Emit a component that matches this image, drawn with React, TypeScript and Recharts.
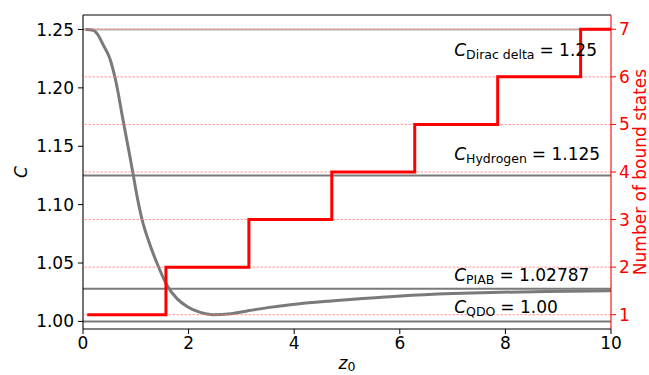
import { ComposedChart, Line, XAxis, YAxis, ReferenceLine, ReferenceDot } from 'recharts';

// C(z0) for the finite well, read along z0
const zCurve = [0.05, 0.19, 0.28, 0.38, 0.51, 0.63, 0.76, 0.86, 0.95, 1.0, 1.12, 1.25, 1.4, 1.59, 1.78, 1.97, 2.22, 2.45, 2.8, 3.11, 3.5, 3.93, 4.69, 5.3, 6.02, 7.0, 7.73, 8.8, 10];
const cCurve = [1.25, 1.2494, 1.2457, 1.237, 1.225, 1.204, 1.172, 1.148, 1.126, 1.113, 1.087, 1.068, 1.05, 1.031, 1.0195, 1.0128, 1.0077, 1.0058, 1.0066, 1.009, 1.0118, 1.0143, 1.0175, 1.0196, 1.0218, 1.0238, 1.0248, 1.0257, 1.0263];

// a new bound state appears every pi/2 in z0
const zSteps = [0.08, 1.571, 3.142, 4.712, 6.283, 7.854, 9.425, 10];
const boundStates = [1, 2, 3, 4, 5, 6, 7, 7];

const limitNames = ['Dirac delta', 'Hydrogen', 'PIAB', 'QDO'];
const limitValues = [1.25, 1.125, 1.02787, 1.0];
const limitTexts = ['1.25', '1.125', '1.02787', '1.00'];

const cTicks = [1.0, 1.05, 1.1, 1.15, 1.2, 1.25];
const nTicks = [1, 2, 3, 4, 5, 6, 7];
const zTicks = [0, 2, 4, 6, 8, 10];

const FONT = 'DejaVu Sans';
const RED = '#ff0000';
const GRAY = '#7a7a7a';
const C_DOMAIN: [number, number] = [0.9935, 1.2624];

const curveData = zCurve.map((z, i) => ({ z, c: cCurve[i] }));
const stepData = zSteps.map((z, i) => ({ z, n: boundStates[i] }));

// where each "C_name = value" annotation sits (z0, C)
const labelSpots = [
  { z: 7.03, c: 1.2269 },
  { z: 7.03, c: 1.1386 },
  { z: 7.03, c: 1.0343 },
  { z: 7.03, c: 1.0072 },
];

function LimitLabel({ cx, cy, name, text }: { cx: number; cy: number; name: string; text: string }) {
  return (
    <text x={cx} y={cy} fontFamily={FONT} fontSize={17} fill="#000">
      <tspan fontStyle="italic">C</tspan>
      <tspan fontSize={12.5} dy={3}>{name}</tspan>
      <tspan dy={-3} dx={5}>= {text}</tspan>
    </text>
  );
}

function XTitle(props: any) {
  const vb = props.viewBox;
  return (
    <text x={vb.x + vb.width / 2} y={369} textAnchor="middle" fontFamily={FONT} fontSize={17}>
      <tspan fontStyle="italic">z</tspan>
      <tspan fontSize={12.5} dy={2}>0</tspan>
    </text>
  );
}

function LeftTitle() {
  return (
    <text x={27} y={172} transform="rotate(-90 27 172)" textAnchor="middle" fontFamily={FONT} fontSize={17} fontStyle="italic">
      C
    </text>
  );
}

function RightTitle() {
  return (
    <text x={646} y={172} transform="rotate(-90 646 172)" textAnchor="middle" fontFamily={FONT} fontSize={17} fill={RED}>
      Number of bound states
    </text>
  );
}

export default function App() {
  return (
    <div style={{ position: 'absolute', left: 0, top: 0, background: '#fff' }}>
      <ComposedChart width={649} height={375} margin={{ top: 15, right: 0, bottom: 0, left: 0 }}>
        <XAxis
          type="number"
          dataKey="z"
          domain={[0, 10]}
          ticks={zTicks}
          height={46}
          tickSize={5}
          tickMargin={3}
          axisLine={{ stroke: '#000', strokeWidth: 1.1 }}
          tickLine={{ stroke: '#000' }}
          tick={{ fill: '#000', fontSize: 17, fontFamily: FONT }}
          label={<XTitle />}
        />
        <YAxis
          yAxisId="C"
          type="number"
          domain={C_DOMAIN}
          ticks={cTicks}
          width={83}
          tickSize={5}
          tickMargin={4}
          tickFormatter={(v: number) => v.toFixed(2)}
          axisLine={{ stroke: '#000', strokeWidth: 1.1 }}
          tickLine={{ stroke: '#000' }}
          tick={{ fill: '#000', fontSize: 17, fontFamily: FONT }}
          label={<LeftTitle />}
        />
        <YAxis
          yAxisId="n"
          orientation="right"
          type="number"
          domain={[0.7, 7.3]}
          ticks={nTicks}
          width={38}
          tickSize={5}
          tickMargin={3}
          axisLine={{ stroke: RED, strokeWidth: 1.1 }}
          tickLine={{ stroke: RED }}
          tick={{ fill: RED, fontSize: 17, fontFamily: FONT }}
          label={<RightTitle />}
        />

        {/* top spine */}
        <ReferenceLine yAxisId="C" y={C_DOMAIN[1]} stroke="#000" strokeWidth={1.1} />

        {limitValues.map((v, i) => (
          <ReferenceLine
            key={'lim' + i}
            yAxisId="C"
            y={v}
            stroke={i === 0 ? '#b8b8b8' : GRAY}
            strokeWidth={2}
          />
        ))}

        <Line
          yAxisId="C"
          data={curveData}
          dataKey="c"
          type="monotone"
          stroke={GRAY}
          strokeWidth={3}
          dot={false}
          isAnimationActive={false}
        />

        {/* right-axis grid */}
        {nTicks.map((n) => (
          <ReferenceLine
            key={'g' + n}
            yAxisId="n"
            y={n}
            stroke="#ff8080"
            strokeWidth={0.8}
            strokeDasharray="2.5 1.5"
          />
        ))}

        <Line
          yAxisId="n"
          data={stepData}
          dataKey="n"
          type="stepAfter"
          stroke={RED}
          strokeWidth={3}
          dot={false}
          isAnimationActive={false}
        />

        {labelSpots.map((p, i) => (
          <ReferenceDot
            key={'lab' + i}
            yAxisId="C"
            x={p.z}
            y={p.c}
            r={0}
            shape={(s: any) => <LimitLabel cx={s.cx} cy={s.cy} name={limitNames[i]} text={limitTexts[i]} />}
          />
        ))}
      </ComposedChart>
    </div>
  );
}
